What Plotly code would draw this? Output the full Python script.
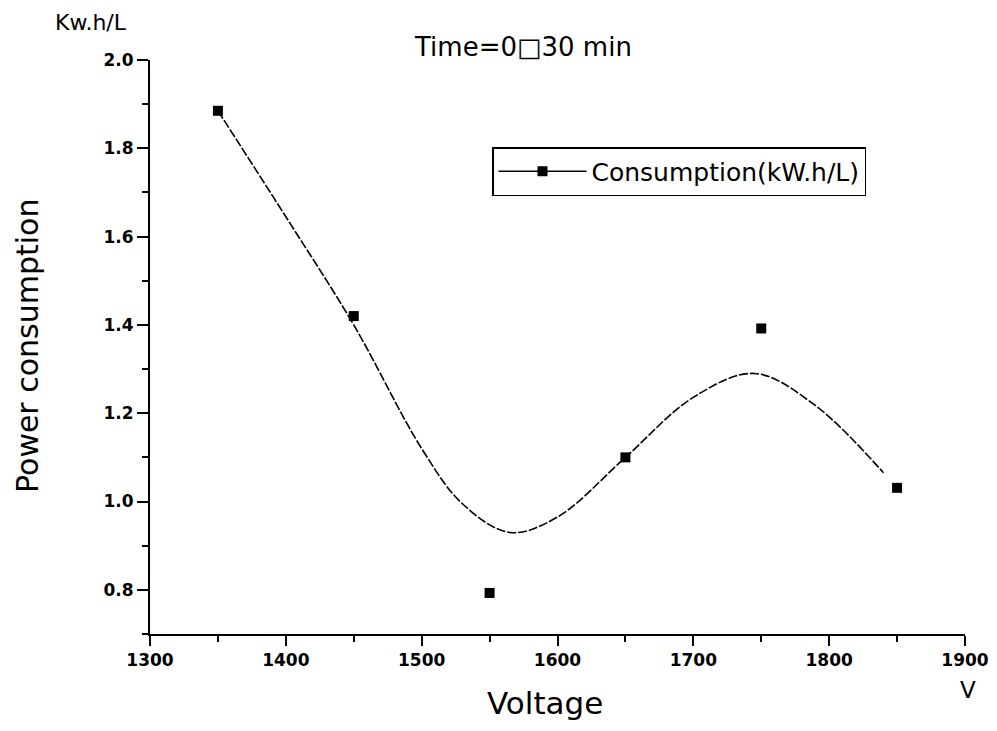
import plotly.graph_objects as go

# Measured points
voltage = [1350, 1450, 1550, 1650, 1750, 1850]
consumption = [1.885, 1.42, 0.793, 1.10, 1.392, 1.031]

# Fitted smooth curve
curve_x = [1350, 1400, 1450, 1500, 1530, 1565, 1600, 1650, 1700, 1745, 1790, 1840]
curve_y = [1.885, 1.645, 1.40, 1.12, 0.995, 0.93, 0.965, 1.10, 1.236, 1.29, 1.217, 1.065]

x_ticks = [1300, 1400, 1500, 1600, 1700, 1800, 1900]
y_ticks = [0.8, 1.0, 1.2, 1.4, 1.6, 1.8, 2.0]

FONT = "DejaVu Sans, Liberation Sans, Arial, sans-serif"

# page body has an 8px margin; figure sized to fit inside the window
OFF = 8
W, H = 981, 715
L, T = 150 - OFF, 60 - OFF
R = W - (965 - OFF)
B = H - (634 - OFF)
PW, PH = W - L - R, H - T - B


def px_x(px):
    return (px - OFF - L) / PW


def px_y(py):
    return (H - B - (py - OFF)) / PH


fig = go.Figure()
fig.add_trace(go.Scatter(
    x=curve_x, y=curve_y, mode="lines",
    line=dict(color="black", width=1.6, dash="9px,2px", shape="spline", smoothing=1.0),
    showlegend=False, hoverinfo="skip"))
fig.add_trace(go.Scatter(
    x=voltage, y=consumption, mode="markers",
    marker=dict(symbol="square", size=10, color="black"), showlegend=False))
fig.add_trace(go.Scatter(
    x=[None], y=[None], mode="lines+markers", name="Consumption(kW.h/L)",
    line=dict(color="black", width=1.5),
    marker=dict(symbol="square", size=10, color="black")))

fig.update_layout(
    width=W, height=H,
    paper_bgcolor="white", plot_bgcolor="white",
    margin=dict(l=L, r=R, t=T, b=B, autoexpand=False),
    font=dict(family=FONT, color="black"),
    showlegend=True,
    legend=dict(x=px_x(492), y=px_y(147), xanchor="left", yanchor="top",
                bordercolor="black", borderwidth=1.5, bgcolor="white",
                itemwidth=88, font=dict(size=25, family=FONT)),
)
fig.update_xaxes(
    range=[1300, 1900], tickvals=x_ticks, ticktext=[str(v) for v in x_ticks],
    showgrid=False, zeroline=False, showline=True, linecolor="black", linewidth=2,
    ticks="outside", ticklen=10, tickwidth=2, tickcolor="black",
    minor=dict(dtick=50, ticks="outside", ticklen=6, tickwidth=1.5, tickcolor="black"),
    tickfont=dict(size=17, family=FONT, weight="bold"), automargin=False,
)
fig.update_yaxes(
    range=[0.7, 2.0], tickvals=y_ticks, ticktext=[f"{v:.1f}" for v in y_ticks],
    showgrid=False, zeroline=False, showline=True, linecolor="black", linewidth=2,
    ticks="outside", ticklen=11, tickwidth=2, tickcolor="black",
    minor=dict(dtick=0.1, ticks="outside", ticklen=6, tickwidth=1.5, tickcolor="black"),
    tickfont=dict(size=17, family=FONT, weight="bold"), automargin=False,
)
annots = [
    ("Time=0□30 min", 523, 47, 26, 0),
    ("Kw.h/L", 91, 23, 22, 0),
    ("V", 968, 690, 23, 0),
    ("Voltage", 545, 703, 31, 0),
    ("Power consumption", 27, 346, 30, -90),
]
for text, ax, ay, size, ang in annots:
    fig.add_annotation(text=text, xref="paper", yref="paper", x=px_x(ax), y=px_y(ay),
                       xanchor="center", yanchor="middle", showarrow=False, textangle=ang,
                       font=dict(size=size, family=FONT))

fig.write_html("out.html")
